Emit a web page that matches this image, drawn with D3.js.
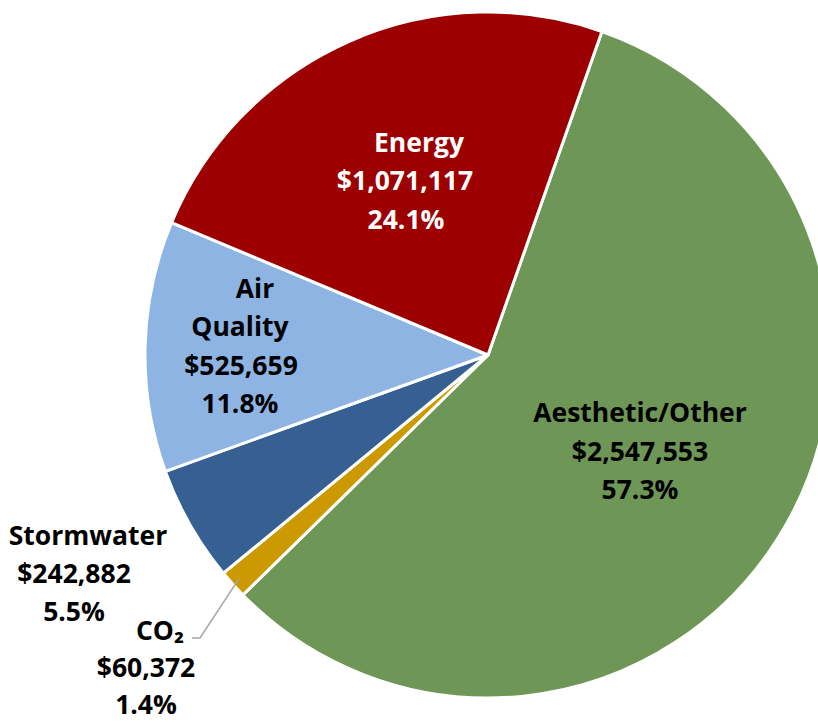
<!DOCTYPE html>
<html><head><meta charset="utf-8">
<script src="https://cdn.jsdelivr.net/npm/d3@7"></script>
<style>body{margin:0;background:#fff}svg{display:block}</style>
</head><body>
<script>
const categories = ["Aesthetic/Other", "CO\u2082", "Stormwater", "Air Quality", "Energy"];
const values = [2547553, 60372, 242882, 525659, 1071117];
const percents = ["57.3%", "1.4%", "5.5%", "11.8%", "24.1%"];
const colors = ["#6e9657", "#cc9a00", "#376092", "#8eb4e3", "#9c0000"];
const labelLines = [
  ["Aesthetic/Other", "$2,547,553", "57.3%"],
  ["CO\u2082", "$60,372", "1.4%"],
  ["Stormwater", "$242,882", "5.5%"],
  ["Air", "Quality", "$525,659", "11.8%"],
  ["Energy", "$1,071,117", "24.1%"]
];
const textColors = ["#000", "#000", "#000", "#000", "#fff"];

const W = 818, H = 723;
const cx = 488, cy = 355, R = 343;
const svg = d3.select("body").append("svg").attr("width", W).attr("height", H);
const g = svg.append("g").attr("transform", `translate(${cx},${cy})`);
const start = 19.4 * Math.PI / 180;
const pie = d3.pie().sort(null).value(d => d).startAngle(start).endAngle(start + 2 * Math.PI);
const arcs = pie(values);
const arc = d3.arc().innerRadius(0).outerRadius(R);
g.selectAll("path").data(arcs).enter().append("path")
  .attr("d", arc).attr("fill", (d, i) => colors[i])
  .attr("stroke", "#fff").attr("stroke-width", 3).attr("stroke-linejoin", "round");

// per-line label centres (x) and baselines (y) in page coords
const lineX = [[640, 640, 640], [160, 146, 146], [88, 74, 74], [255, 240, 241, 240], [419, 405, 406]];
const lineY = [[422, 461, 499], [640, 677, 714], [545, 583, 621], [298, 336, 375, 413], [152, 190, 229]];
const fontFam = "'Open Sans', Carlito, Calibri, sans-serif";
labelLines.forEach((lines, i) => {
  const t = svg.append("text").attr("text-anchor", "middle")
    .attr("font-family", fontFam).attr("font-weight", "bold").attr("font-size", 26.5)
    .attr("fill", textColors[i]);
  lines.forEach((s, j) => {
    t.append("tspan").attr("x", lineX[i][j]).attr("y", lineY[i][j]).text(s);
  });
});

// leader line for CO2
const co2 = arcs[1];
const mid = (co2.startAngle + co2.endAngle) / 2;
const px = cx + Math.sin(mid) * (R - 8), py = cy - Math.cos(mid) * (R - 8);
svg.append("path")
  .attr("d", `M${px},${py} L${200},${638} L${192},${638}`)
  .attr("fill", "none").attr("stroke", "#a6a6a6").attr("stroke-width", 1.5);
</script>
</body></html>
